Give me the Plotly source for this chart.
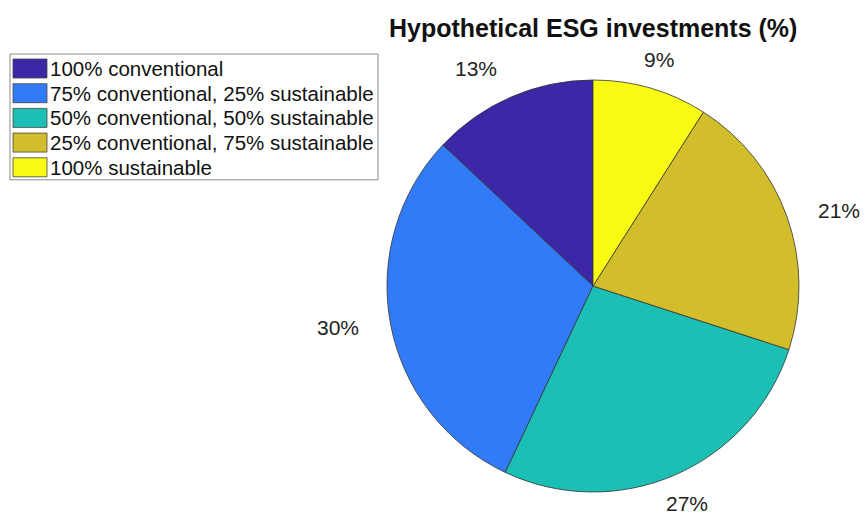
import math
import plotly.graph_objects as go

categories = ["100% conventional", "75% conventional, 25% sustainable",
              "50% conventional, 50% sustainable", "25% conventional, 75% sustainable",
              "100% sustainable"]
values = [13, 30, 27, 21, 9]
colors = ["#3C27A6", "#327BF8", "#1BBFB3", "#D2BE2A", "#F8FA14"]
title_text = "Hypothetical ESG investments (%)"

W, H = 865, 518
CX, CY, R = 593, 286, 206          # pie centre / radius in pixels
LRX, LRY = 1.1 * 215, 1.1 * 202    # label radii
FONT = "Liberation Sans, Arial, sans-serif"

dom_x = [(CX - R) / W, (CX + R) / W]
dom_y = [1 - (CY + R) / H, 1 - (CY - R) / H]

total = sum(values)
first_span = 360.0 * values[0] / total

fig = go.Figure(go.Pie(
    labels=categories, values=values, sort=False, direction="counterclockwise",
    rotation=-first_span,   # first slice starts at 12 o'clock and runs counter-clockwise
    marker=dict(colors=colors, line=dict(color="#333333", width=0.8)),
    textinfo="none",
    domain=dict(x=dom_x, y=dom_y),
    hoverinfo="label+percent",
    showlegend=False,
))

# percentage labels placed outside each slice (counter-clockwise from top)
ann = []
start = 90.0
for v in values:
    span = 360.0 * v / total
    mid = math.radians(start + span / 2)
    start += span
    c, s = math.cos(mid), math.sin(mid)
    px = CX + LRX * c
    py = CY - LRY * s
    if c < -0.3:
        xa = "right"
    elif c > 0.5:
        xa = "left"
    else:
        xa = "center"
    if abs(s) < 0.5:
        ya = "middle"
    elif s > 0:
        ya = "bottom"
    else:
        ya = "top"
    ann.append(dict(x=px / W, y=1 - py / H, xref="paper", yref="paper",
                    text=f"{v}%", showarrow=False, xanchor=xa, yanchor=ya,
                    font=dict(family=FONT, size=21, color="#222222")))

# title
ann.append(dict(x=CX / W, y=1 - 28 / H, xref="paper", yref="paper",
                text=f"<b>{title_text}</b>", showarrow=False,
                xanchor="center", yanchor="middle",
                font=dict(family=FONT, size=25, color="#111111")))

# legend (MATLAB style box with wide swatches)
shapes = []
LX0, LX1, LY0 = 10, 378, 54
SW_X0, SW_X1, SW_Y0, SW_H, PITCH = 13, 47, 59, 19, 24.7
n = len(categories)
LY1 = SW_Y0 + (n - 1) * PITCH + SW_H + 3
shapes.append(dict(type="rect", xref="paper", yref="paper",
                   x0=LX0 / W, x1=LX1 / W, y0=1 - LY1 / H, y1=1 - LY0 / H,
                   line=dict(color="#8a8a8a", width=1), fillcolor="white", layer="below"))
for i, (cat, col) in enumerate(zip(categories, colors)):
    top = SW_Y0 + i * PITCH
    shapes.append(dict(type="rect", xref="paper", yref="paper",
                       x0=SW_X0 / W, x1=SW_X1 / W, y0=1 - (top + SW_H) / H, y1=1 - top / H,
                       line=dict(color="#444444", width=0.8), fillcolor=col))
    ann.append(dict(x=(SW_X1 + 1) / W, y=1 - (top + SW_H / 2) / H, xref="paper", yref="paper",
                    text=cat, showarrow=False, xanchor="left", yanchor="middle",
                    font=dict(family=FONT, size=20.5, color="#111111")))

fig.update_layout(
    width=W, height=H,
    margin=dict(l=0, r=0, t=0, b=0),
    paper_bgcolor="white",
    font=dict(family=FONT, size=19.5, color="#111111"),
    annotations=ann,
    shapes=shapes,
    showlegend=False,
)

fig.write_html("out.html", config={"displayModeBar": False},
               post_script="document.body.style.margin='0';")
